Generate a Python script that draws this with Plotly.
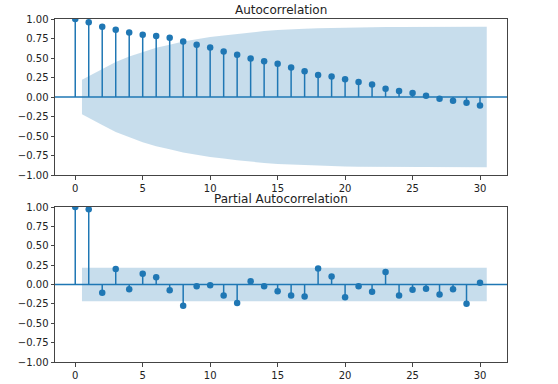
import plotly.graph_objects as go

lags = list(range(31))
acf_vals = [1.0, 0.957, 0.90, 0.863, 0.828, 0.798, 0.781, 0.76, 0.712, 0.67, 0.635,
            0.584, 0.541, 0.494, 0.459, 0.425, 0.378, 0.33, 0.283, 0.262, 0.227,
            0.193, 0.159, 0.107, 0.077, 0.05, 0.017, -0.021, -0.047, -0.073, -0.11]
pacf_vals = [1.0, 0.97, -0.108, 0.199, -0.061, 0.139, 0.095, -0.074, -0.273, -0.022, -0.009,
             -0.143, -0.238, 0.043, -0.022, -0.087, -0.143, -0.156, 0.208, 0.104, -0.165,
             -0.022, -0.095, 0.160, -0.143, -0.069, -0.056, -0.13, -0.061, -0.247, 0.022]
# confidence band half-widths for lags 1..30 (first/last drawn at lag 0.5 / 30.5)
acf_band = [0.22, 0.36, 0.45, 0.52, 0.58, 0.63, 0.67, 0.71, 0.74, 0.77, 0.79, 0.81,
            0.83, 0.845, 0.86, 0.87, 0.875, 0.88, 0.885, 0.89, 0.893, 0.895, 0.897,
            0.898, 0.899, 0.9, 0.9, 0.9, 0.9, 0.9]
pacf_band = [0.215] * 30
y_ticks = [-1.0, -0.75, -0.5, -0.25, 0.0, 0.25, 0.5, 0.75, 1.0]
x_ticks = [0, 5, 10, 15, 20, 25, 30]
titles = ["Autocorrelation", "Partial Autocorrelation"]

BLUE = "#1f77b4"
FILL = "rgba(31,119,180,0.25)"
FONT = "DejaVu Sans"

fig = go.Figure()


def band_x():
    xs = [float(l) for l in lags[1:]]
    xs[0] -= 0.5
    xs[-1] += 0.5
    return xs


def add_panel(vals, band, xa, ya):
    bx = band_x()
    fig.add_trace(go.Scatter(
        x=bx + bx[::-1], y=band + [-b for b in band[::-1]],
        fill="toself", fillcolor=FILL, line=dict(width=0), mode="lines",
        hoverinfo="skip", showlegend=False, xaxis=xa, yaxis=ya))
    sx, sy = [], []
    for l, v in zip(lags, vals):
        sx += [l, l, None]
        sy += [0, v, None]
    fig.add_trace(go.Scatter(x=sx, y=sy, mode="lines",
                             line=dict(color=BLUE, width=1.5),
                             showlegend=False, xaxis=xa, yaxis=ya))
    fig.add_trace(go.Scatter(x=lags, y=vals, mode="markers",
                             marker=dict(color=BLUE, size=6.5),
                             showlegend=False, xaxis=xa, yaxis=ya))


add_panel(acf_vals, acf_band, "x", "y")
add_panel(pacf_vals, pacf_band, "x2", "y2")

for yref in ["y", "y2"]:
    fig.add_shape(type="line", xref=("x domain" if yref == "y" else "x2 domain"),
                  x0=0, x1=1, yref=yref, y0=0, y1=0,
                  line=dict(color=BLUE, width=1.5), layer="above")

ytext = [("\u2212%.2f" % abs(v)) if v < 0 else "%.2f" % v for v in y_ticks]

axis_common = dict(showline=True, mirror=True, linecolor="#444", linewidth=1,
                   ticks="outside", ticklen=3.5, tickwidth=0.8, tickcolor="#444",
                   showgrid=False, zeroline=False, automargin=False,
                   tickfont=dict(family=FONT, size=10, color="#222"))

xd = [55 / 558, 507 / 558]
fig.update_layout(
    template="none",
    width=558, height=384,
    margin=dict(l=0, r=0, t=0, b=0, pad=0),
    paper_bgcolor="white", plot_bgcolor="white",
    font=dict(family=FONT),
    xaxis=dict(domain=xd, anchor="y", range=[-1.5, 32], tickvals=x_ticks, **axis_common),
    yaxis=dict(domain=[1 - 175 / 384, 1 - 19 / 384], anchor="x", range=[-1, 1],
               tickvals=y_ticks, ticktext=ytext, **axis_common),
    xaxis2=dict(domain=xd, anchor="y2", range=[-1.5, 32], tickvals=x_ticks, **axis_common),
    yaxis2=dict(domain=[1 - 362 / 384, 1 - 207 / 384], anchor="x2", range=[-1, 1],
                tickvals=y_ticks, ticktext=ytext, **axis_common),
    annotations=[
        dict(text=titles[0], xref="paper", yref="paper", x=(xd[0] + xd[1]) / 2,
             y=1 - 10 / 384, xanchor="center", yanchor="middle", showarrow=False,
             font=dict(family=FONT, size=12, color="#222")),
        dict(text=titles[1], xref="paper", yref="paper", x=(xd[0] + xd[1]) / 2,
             y=1 - 199 / 384, xanchor="center", yanchor="middle", showarrow=False,
             font=dict(family=FONT, size=12, color="#222")),
    ],
)

fig.write_html("out.html")
